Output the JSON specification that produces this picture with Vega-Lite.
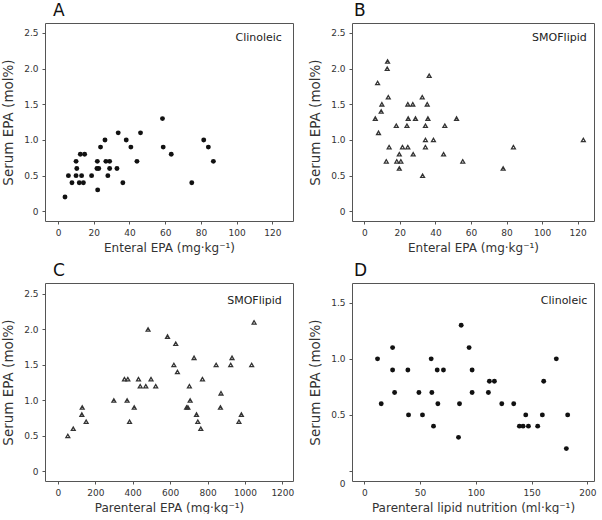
{
  "$schema": "https://vega.github.io/schema/vega-lite/v6.json",
  "padding": {"left": 1, "top": 1, "right": 0, "bottom": 0},
  "background": "white",
  "datasets": {
    "a": [
      {"x": 3.9, "y": 0.2}, {"x": 5.8, "y": 0.5}, {"x": 7.8, "y": 0.4}, {"x": 10.1, "y": 0.7},
      {"x": 10.1, "y": 0.5}, {"x": 10.5, "y": 0.6}, {"x": 11.9, "y": 0.4}, {"x": 12.5, "y": 0.8},
      {"x": 13.2, "y": 0.5}, {"x": 14.2, "y": 0.4}, {"x": 14.9, "y": 0.8}, {"x": 18.8, "y": 0.5},
      {"x": 21.8, "y": 0.6}, {"x": 22, "y": 0.7}, {"x": 22.2, "y": 0.3}, {"x": 22.8, "y": 0.6},
      {"x": 23.8, "y": 0.9}, {"x": 26.3, "y": 1.0}, {"x": 26.8, "y": 0.7}, {"x": 27.9, "y": 0.5},
      {"x": 28.9, "y": 0.7}, {"x": 28.9, "y": 0.6}, {"x": 33, "y": 0.6}, {"x": 33.7, "y": 1.1},
      {"x": 36.3, "y": 0.4}, {"x": 38.2, "y": 1.0}, {"x": 40.8, "y": 0.9}, {"x": 44.2, "y": 0.7},
      {"x": 46.2, "y": 1.1}, {"x": 58.5, "y": 1.3}, {"x": 58.9, "y": 0.9}, {"x": 63.4, "y": 0.8},
      {"x": 74.9, "y": 0.4}, {"x": 81.6, "y": 1.0}, {"x": 84.2, "y": 0.9}, {"x": 87, "y": 0.7}
    ],
    "b": [
      {"x": 6.2, "y": 1.3}, {"x": 7.5, "y": 1.8}, {"x": 8.0, "y": 1.1}, {"x": 9.5, "y": 1.4},
      {"x": 9.9, "y": 1.5}, {"x": 12.4, "y": 0.7}, {"x": 12.9, "y": 2.0}, {"x": 13.1, "y": 2.1},
      {"x": 13.5, "y": 1.6}, {"x": 14.0, "y": 0.9}, {"x": 18.0, "y": 1.2}, {"x": 18.3, "y": 0.7},
      {"x": 19.7, "y": 0.8}, {"x": 19.7, "y": 0.6}, {"x": 20.6, "y": 0.7}, {"x": 21.5, "y": 0.9},
      {"x": 24, "y": 1.2}, {"x": 24.5, "y": 1.5}, {"x": 24.7, "y": 1.3}, {"x": 24.5, "y": 0.9},
      {"x": 27.5, "y": 0.8}, {"x": 27.3, "y": 1.5}, {"x": 28.8, "y": 1.3}, {"x": 32.6, "y": 1.6},
      {"x": 32.8, "y": 0.5}, {"x": 34.4, "y": 1.2}, {"x": 34.4, "y": 1.0}, {"x": 34.4, "y": 0.9},
      {"x": 35.4, "y": 1.5}, {"x": 35.8, "y": 1.3}, {"x": 36.5, "y": 1.9}, {"x": 38.9, "y": 1.0},
      {"x": 44.6, "y": 0.8}, {"x": 45.3, "y": 1.2}, {"x": 51.9, "y": 1.3}, {"x": 55.4, "y": 0.7},
      {"x": 78.1, "y": 0.6}, {"x": 83.9, "y": 0.9}, {"x": 123.2, "y": 1.0}
    ],
    "c": [
      {"x": 53, "y": 0.5}, {"x": 82, "y": 0.6}, {"x": 128, "y": 0.8}, {"x": 130, "y": 0.9},
      {"x": 151, "y": 0.7}, {"x": 299, "y": 1.0}, {"x": 356, "y": 1.3}, {"x": 374, "y": 1.3},
      {"x": 370, "y": 1.0}, {"x": 383, "y": 0.7}, {"x": 408, "y": 0.9}, {"x": 431, "y": 1.3},
      {"x": 440, "y": 1.2}, {"x": 470, "y": 1.2}, {"x": 482, "y": 2.0}, {"x": 498, "y": 1.3},
      {"x": 523, "y": 1.2}, {"x": 586, "y": 1.9}, {"x": 620, "y": 1.5}, {"x": 630, "y": 1.8},
      {"x": 639, "y": 1.4}, {"x": 688, "y": 0.9}, {"x": 695, "y": 0.9}, {"x": 703, "y": 1.2},
      {"x": 707, "y": 1.0}, {"x": 728, "y": 1.6}, {"x": 741, "y": 0.8}, {"x": 748, "y": 0.7},
      {"x": 764, "y": 0.6}, {"x": 773, "y": 1.3}, {"x": 846, "y": 1.5}, {"x": 869, "y": 0.9},
      {"x": 872, "y": 1.1}, {"x": 924, "y": 1.5}, {"x": 931, "y": 1.6}, {"x": 968, "y": 0.7},
      {"x": 981, "y": 0.8}, {"x": 1036, "y": 1.5}, {"x": 1049, "y": 2.1}
    ],
    "d": [
      {"x": 11.9, "y": 1.0}, {"x": 15.2, "y": 0.6}, {"x": 25.4, "y": 1.1}, {"x": 25.4, "y": 0.9},
      {"x": 27.2, "y": 0.7}, {"x": 39.1, "y": 0.9}, {"x": 39.7, "y": 0.5}, {"x": 49, "y": 0.7},
      {"x": 52.2, "y": 0.5}, {"x": 60, "y": 1.0}, {"x": 60.6, "y": 0.7}, {"x": 62.1, "y": 0.4},
      {"x": 65.4, "y": 0.9}, {"x": 66, "y": 0.6}, {"x": 71, "y": 0.9}, {"x": 84.5, "y": 0.3},
      {"x": 85.4, "y": 0.6}, {"x": 86.9, "y": 1.3}, {"x": 94, "y": 1.1}, {"x": 96.7, "y": 0.9},
      {"x": 96.7, "y": 0.7}, {"x": 111.3, "y": 0.7}, {"x": 112.2, "y": 0.8}, {"x": 116.7, "y": 0.8},
      {"x": 123.3, "y": 0.6}, {"x": 134, "y": 0.6}, {"x": 139.1, "y": 0.4}, {"x": 142.4, "y": 0.4},
      {"x": 144.8, "y": 0.5}, {"x": 147.2, "y": 0.4}, {"x": 155.5, "y": 0.4}, {"x": 159.7, "y": 0.5},
      {"x": 160.9, "y": 0.8}, {"x": 172.2, "y": 1.0}, {"x": 181.2, "y": 0.2}, {"x": 182.4, "y": 0.5}
    ]
  },
  "columns": 2,
  "spacing": {"column": 13, "row": 7},
  "concat": [
    {
      "title": {"text": "A", "dx": 8},
      "width": 248,
      "height": 198,
      "layer": [
        {
          "data": {"name": "a"},
          "mark": {"type": "circle", "size": 24, "color": "#111", "opacity": 1},
          "encoding": {
            "x": {"field": "x", "type": "quantitative", "title": "Enteral EPA (mg·kg⁻¹)",
              "scale": {"domain": [-7.3, 131.6], "nice": false, "zero": false},
              "axis": {"values": [0, 20, 40, 60, 80, 100, 120]}},
            "y": {"field": "y", "type": "quantitative", "title": "Serum EPA (mol%)",
              "scale": {"domain": [-0.136, 2.64], "nice": false, "zero": false},
              "axis": {"tickCount": 6}}
          }
        },
        {
          "data": {"values": [{"label": "Clinoleic"}]},
          "mark": {"type": "text", "align": "right", "baseline": "middle", "fontSize": 11, "font": "DejaVu Sans", "color": "#222"},
          "encoding": {"x": {"datum": 125.4, "type": "quantitative"}, "y": {"datum": 2.43, "type": "quantitative"}, "text": {"field": "label"}}
        }
      ]
    },
    {
      "title": {"text": "B", "dx": 2},
      "width": 242,
      "height": 198,
      "layer": [
        {
          "data": {"name": "b"},
          "mark": {"type": "point", "shape": "triangle-up", "size": 15, "filled": false, "color": "#333", "strokeWidth": 1.3, "opacity": 1},
          "encoding": {
            "x": {"field": "x", "type": "quantitative", "title": "Enteral EPA (mg·kg⁻¹)",
              "scale": {"domain": [-6.9, 129.2], "nice": false, "zero": false},
              "axis": {"values": [0, 20, 40, 60, 80, 100, 120]}},
            "y": {"field": "y", "type": "quantitative", "title": "Serum EPA (mol%)",
              "scale": {"domain": [-0.136, 2.64], "nice": false, "zero": false},
              "axis": {"tickCount": 6}}
          }
        },
        {
          "data": {"values": [{"label": "SMOFlipid"}]},
          "mark": {"type": "text", "align": "right", "baseline": "middle", "fontSize": 11, "font": "DejaVu Sans", "color": "#222"},
          "encoding": {"x": {"datum": 125.1, "type": "quantitative"}, "y": {"datum": 2.43, "type": "quantitative"}, "text": {"field": "label"}}
        }
      ]
    },
    {
      "title": {"text": "C", "dx": 8},
      "width": 248,
      "height": 198,
      "layer": [
        {
          "data": {"name": "c"},
          "mark": {"type": "point", "shape": "triangle-up", "size": 15, "filled": false, "color": "#333", "strokeWidth": 1.3, "opacity": 1},
          "encoding": {
            "x": {"field": "x", "type": "quantitative", "title": "Parenteral EPA (mg·kg⁻¹)",
              "scale": {"domain": [-69, 1257], "nice": false, "zero": false},
              "axis": {"values": [0, 200, 400, 600, 800, 1000, 1200]}},
            "y": {"field": "y", "type": "quantitative", "title": "Serum EPA (mol%)",
              "scale": {"domain": [-0.136, 2.655], "nice": false, "zero": false},
              "axis": {"tickCount": 6}}
          }
        },
        {
          "data": {"values": [{"label": "SMOFlipid"}]},
          "mark": {"type": "text", "align": "right", "baseline": "middle", "fontSize": 11, "font": "DejaVu Sans", "color": "#222"},
          "encoding": {"x": {"datum": 1197, "type": "quantitative"}, "y": {"datum": 2.4, "type": "quantitative"}, "text": {"field": "label"}}
        }
      ]
    },
    {
      "title": {"text": "D", "dx": 2},
      "width": 242,
      "height": 198,
      "layer": [
        {
          "data": {"name": "d"},
          "mark": {"type": "circle", "size": 24, "color": "#111", "opacity": 1},
          "encoding": {
            "x": {"field": "x", "type": "quantitative", "title": "Parenteral lipid nutrition (ml·kg⁻¹)",
              "scale": {"domain": [-11, 206], "nice": false, "zero": false},
              "axis": {"values": [0, 50, 100, 150, 200]}},
            "y": {"field": "y", "type": "quantitative", "title": "Serum EPA (mol%)",
              "scale": {"domain": [-0.089, 1.676], "nice": false, "zero": false},
              "axis": {"values": [0, 0.5, 1, 1.5],
                "labelOffset": {"condition": {"test": "datum.value == 0", "value": 12}, "value": 0}}}
          }
        },
        {
          "data": {"values": [{"label": "Clinoleic"}]},
          "mark": {"type": "text", "align": "right", "baseline": "middle", "fontSize": 11, "font": "DejaVu Sans", "color": "#222"},
          "encoding": {"x": {"datum": 200, "type": "quantitative"}, "y": {"datum": 1.52, "type": "quantitative"}, "text": {"field": "label"}}
        }
      ]
    }
  ],
  "config": {
    "font": "DejaVu Sans",
    "view": {"stroke": "#555", "strokeWidth": 1},
    "title": {"anchor": "start", "frame": "group", "fontSize": 17, "fontWeight": "normal", "font": "DejaVu Sans", "color": "#111", "offset": 3},
    "axis": {
      "grid": false,
      "domain": false,
      "ticks": true,
      "tickSize": 3,
      "tickColor": "#555",
      "labelFont": "DejaVu Sans",
      "labelFontSize": 9,
      "labelColor": "#333",
      "labelPadding": 4,
      "labelOverlap": false,
      "titleFont": "DejaVu Sans",
      "titleFontWeight": "normal",
      "titleColor": "#333",
      "labelExpr": "datum.value == 0 ? '0' : format(datum.value, '.1f')"
    },
    "axisX": {"labelExpr": "format(datum.value, 'd')", "titlePadding": 5, "titleFontSize": 12},
    "axisY": {"titlePadding": 8, "titleFontSize": 13.5}
  }
}
